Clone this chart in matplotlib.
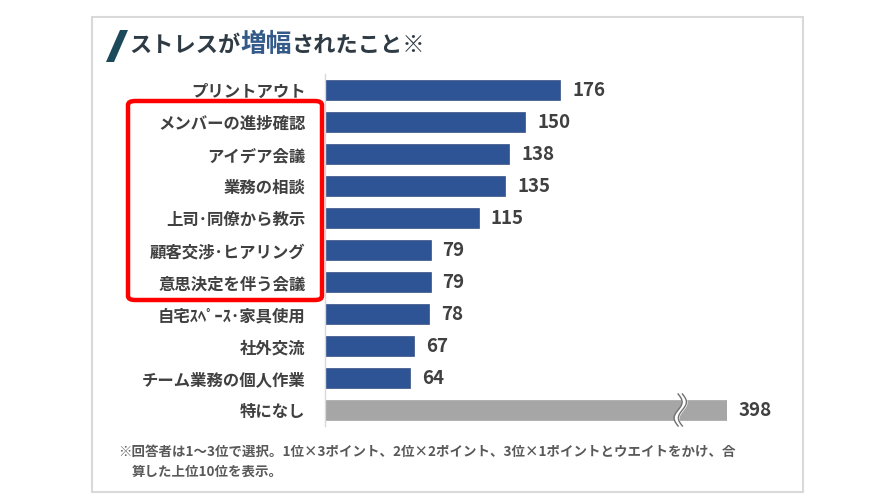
import numpy as np
import matplotlib
matplotlib.use("Agg")
import matplotlib.pyplot as plt
from matplotlib.patches import Rectangle, FancyBboxPatch, Polygon

plt.rcParams['font.family'] = ['Noto Sans CJK JP', 'DejaVu Sans']

labels = ["プリントアウト", "メンバーの進捗確認", "アイデア会議", "業務の相談",
          "上司･同僚から教示", "顧客交渉･ヒアリング", "意思決定を伴う会議",
          "自宅ｽﾍﾟｰｽ･家具使用", "社外交流", "チーム業務の個人作業", "特になし"]
values = [176, 150, 138, 135, 115, 79, 79, 78, 67, 64, 398]
colors = ["#2f5496"] * 10 + ["#a6a6a6"]

AXIS_MAX = 301      # axis is cut here, the last bar is broken
BREAK_AT = 266

fig = plt.figure(figsize=(8.96, 5.04), dpi=100)
W, H = 896, 504

def fx(px):
    return px / W

def fy(py):
    return 1 - py / H

# light frame around the chart
fig.patches.append(Rectangle((fx(92), fy(492)), fx(803 - 92), (492 - 17) / H,
                             transform=fig.transFigure, fill=False,
                             edgecolor="#d9d9d9", linewidth=1.5))

ax = fig.add_axes([fx(325), fy(426), fx(727 - 325), 352 / H])
y = np.arange(len(values))
ax.barh(y, values, height=0.63, color=colors, edgecolor="#1f3a6e", linewidth=0.4)
ax.patches[-1].set_edgecolor("#999999")
ax.set_xlim(0, AXIS_MAX)
ax.set_ylim(len(values) - 0.5, -0.5)
for s in ["top", "right", "bottom"]:
    ax.spines[s].set_visible(False)
ax.spines["left"].set_color("#d9d9d9")
ax.spines["left"].set_linewidth(1)
ax.set_xticks([])
ax.set_yticks(y)
ax.set_yticklabels(labels, fontsize=11.8, color="#404040", fontweight="bold")
ax.tick_params(axis="y", length=0, pad=14)

for i, v in enumerate(values):
    xv = min(v, AXIS_MAX)
    ax.text(xv + 9, i, str(v), va="center", ha="left", fontsize=13.5,
            fontweight="bold", color="#404040", clip_on=False)

# break mark on the last bar
yy = np.linspace(len(values) - 1.5, len(values) - 0.5, 60)
wave = 3.0 * np.sin((yy - yy[0]) / (yy[-1] - yy[0]) * 2 * np.pi)
ax.fill_betweenx(yy, BREAK_AT + wave - 1.6, BREAK_AT + wave + 1.6, color="white",
                 zorder=3, clip_on=False)
ax.plot(BREAK_AT + wave - 1.6, yy, color="#707070", lw=1, zorder=4, clip_on=False)
ax.plot(BREAK_AT + wave + 1.6, yy, color="#707070", lw=1, zorder=4, clip_on=False)

# title
fig.patches.append(Polygon([(fx(106), fy(62)), (fx(114), fy(62)), (fx(128), fy(30)), (fx(120), fy(30))],
                           closed=True, transform=fig.transFigure,
                           facecolor="#1d4a5a", edgecolor="none"))
t1 = fig.text(fx(129), fy(45), "ストレスが", fontsize=16, fontweight="bold",
              color="#2e3a44", va="center", ha="left")
fig.canvas.draw()
r = fig.canvas.get_renderer()
bb = t1.get_window_extent(r)
t2 = fig.text(bb.x1 / W, fy(45), "増幅", fontsize=18.5, fontweight="bold",
              color="#345a8a", va="center", ha="left")
bb2 = t2.get_window_extent(r)
fig.text(bb2.x1 / W, fy(45), "されたこと※", fontsize=16, fontweight="bold",
         color="#2e3a44", va="center", ha="left")

# footnote
fig.text(fx(118), fy(452), "※回答者は1～3位で選択。1位×3ポイント、2位×2ポイント、3位×1ポイントとウエイトをかけ、合",
         fontsize=9.7, fontweight="bold", color="#595959", va="center", ha="left")
fig.text(fx(132), fy(472), "算した上位10位を表示。",
         fontsize=9.7, fontweight="bold", color="#595959", va="center", ha="left")

# red highlight box
fig.patches.append(FancyBboxPatch((fx(128), fy(300)), fx(322 - 128), (300 - 101) / H,
                                  boxstyle="round,pad=0,rounding_size=0.008",
                                  transform=fig.transFigure, fill=False,
                                  edgecolor="#ff0000", linewidth=3.2))

fig.savefig("out.png", dpi=100)
